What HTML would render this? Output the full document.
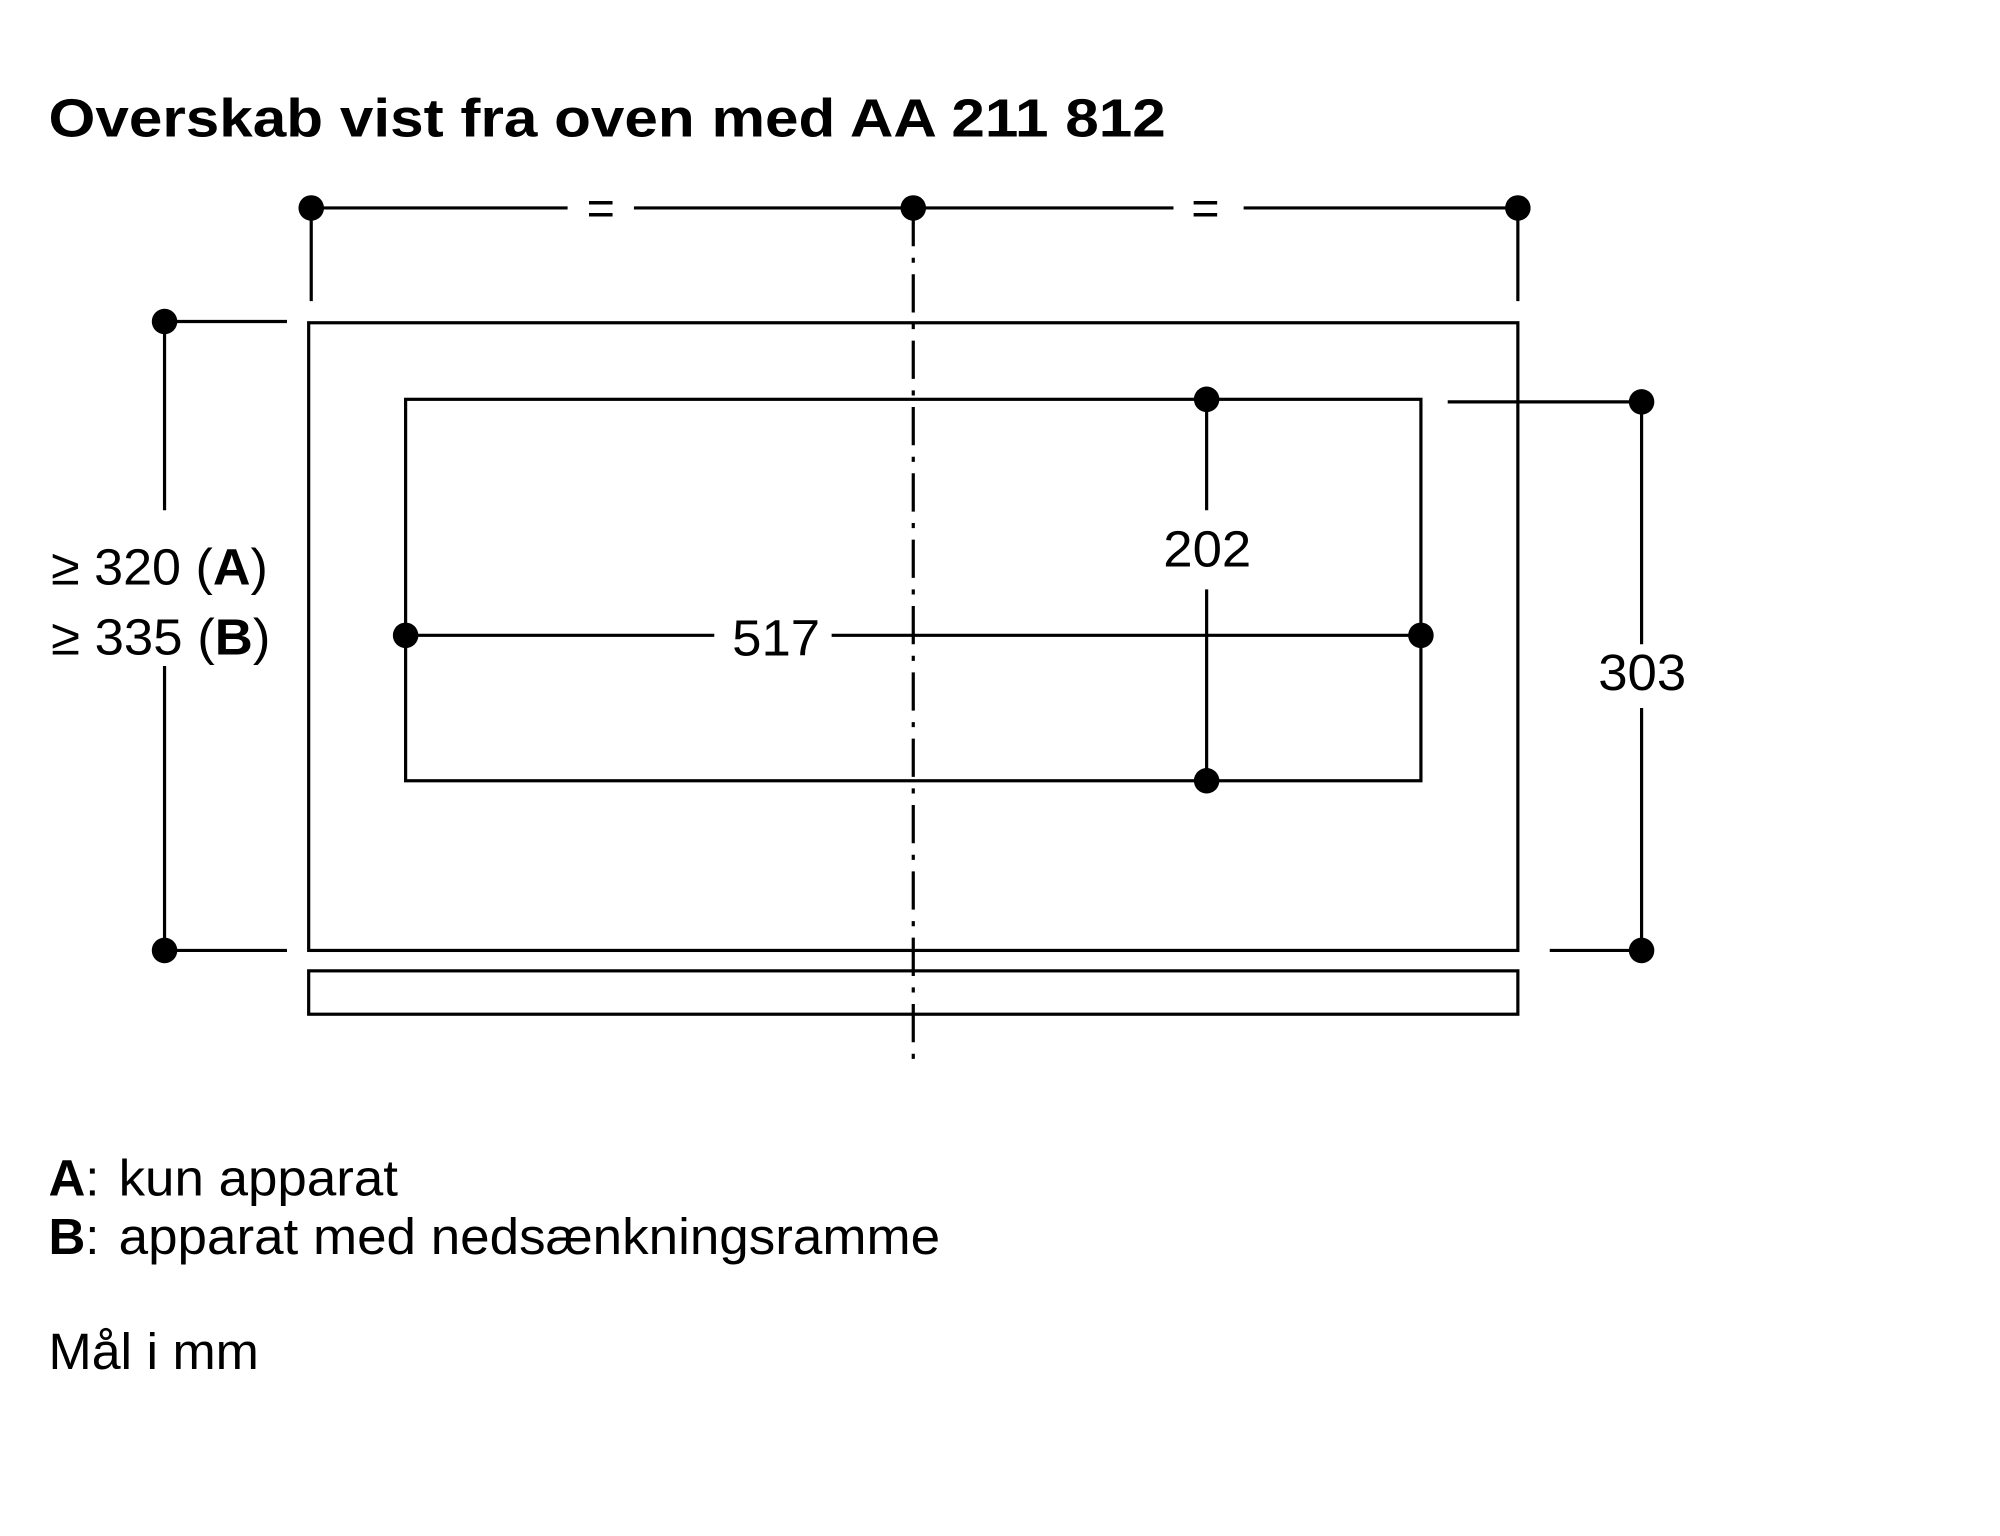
<!DOCTYPE html>
<html><head><meta charset="utf-8"><style>
html,body{margin:0;padding:0;background:#fff;width:2000px;height:1536px;overflow:hidden}
svg{display:block}
text{font-family:"Liberation Sans",Arial,sans-serif;fill:#000}
</style></head><body>
<svg width="2000" height="1536" viewBox="0 0 1568 1204" preserveAspectRatio="none" xmlns="http://www.w3.org/2000/svg">
<text x="38" y="107" font-size="42" font-weight="bold" textLength="876" lengthAdjust="spacingAndGlyphs">Overskab vist fra oven med AA 211 812</text>
<g stroke="#000" stroke-width="2.5" fill="none">
<line x1="244" y1="163" x2="445" y2="163"/>
<line x1="497" y1="163" x2="920" y2="163"/>
<line x1="975" y1="163" x2="1190" y2="163"/>
<line x1="244" y1="163" x2="244" y2="236"/>
<line x1="1190" y1="163" x2="1190" y2="236"/>
<rect x="242" y="253" width="948" height="492"/>
<rect x="318" y="313" width="796" height="299"/>
<rect x="242" y="761" width="948" height="34"/>
<line x1="716" y1="163" x2="716" y2="833" stroke-dasharray="30,9,4,9"/>
<line x1="129" y1="252" x2="225" y2="252"/>
<line x1="129" y1="745" x2="225" y2="745"/>
<line x1="129" y1="252" x2="129" y2="400"/>
<line x1="129" y1="522" x2="129" y2="745"/>
<line x1="318" y1="498" x2="560" y2="498"/>
<line x1="652" y1="498" x2="1114" y2="498"/>
<line x1="946" y1="313" x2="946" y2="400"/>
<line x1="946" y1="462" x2="946" y2="612"/>
<line x1="1135" y1="315" x2="1287" y2="315"/>
<line x1="1215" y1="745" x2="1287" y2="745"/>
<line x1="1287" y1="315" x2="1287" y2="505"/>
<line x1="1287" y1="555" x2="1287" y2="745"/>
</g>
<g fill="#000">
<circle cx="244" cy="163" r="10"/><circle cx="716" cy="163" r="10"/><circle cx="1190" cy="163" r="10"/>
<circle cx="129" cy="252" r="10"/><circle cx="129" cy="745" r="10"/>
<circle cx="318" cy="498" r="10"/><circle cx="1114" cy="498" r="10"/>
<circle cx="946" cy="313" r="10"/><circle cx="946" cy="612" r="10"/>
<circle cx="1287" cy="315" r="10"/><circle cx="1287" cy="745" r="10"/>
</g>
<text x="471" y="176" font-size="38" text-anchor="middle">=</text>
<text x="945" y="176" font-size="38" text-anchor="middle">=</text>
<text x="40" y="458" font-size="40" textLength="170" lengthAdjust="spacingAndGlyphs">≥ 320 (<tspan font-weight="bold">A</tspan>)</text>
<text x="40" y="513" font-size="40" textLength="172" lengthAdjust="spacingAndGlyphs">≥ 335 (<tspan font-weight="bold">B</tspan>)</text>
<text x="574" y="514" font-size="40" textLength="69" lengthAdjust="spacingAndGlyphs">517</text>
<text x="912" y="444" font-size="40" textLength="69" lengthAdjust="spacingAndGlyphs">202</text>
<text x="1253" y="541" font-size="40" textLength="69" lengthAdjust="spacingAndGlyphs">303</text>
<text x="38" y="937" font-size="40"><tspan font-weight="bold">A</tspan>:</text>
<text x="93" y="937" font-size="40" textLength="219" lengthAdjust="spacingAndGlyphs">kun apparat</text>
<text x="38" y="983" font-size="40"><tspan font-weight="bold">B</tspan>:</text>
<text x="93" y="983" font-size="40" textLength="644" lengthAdjust="spacingAndGlyphs">apparat med nedsænkningsramme</text>
<text x="38" y="1073" font-size="40" textLength="165" lengthAdjust="spacingAndGlyphs">Mål i mm</text>
</svg>
</body></html>
